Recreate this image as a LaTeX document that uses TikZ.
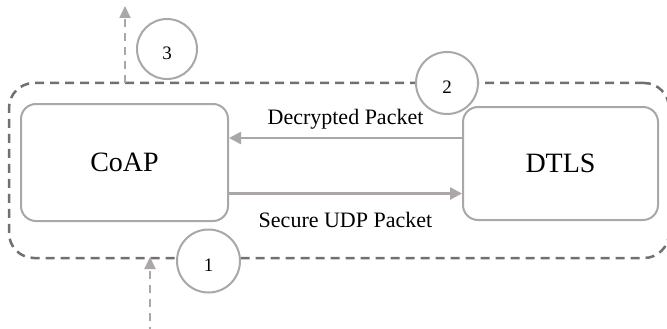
\documentclass[tikz,border=0pt]{standalone}
\usepackage{fontspec}
\setmainfont{Liberation Serif}
\usetikzlibrary{arrows.meta}
\definecolor{framegray}{HTML}{707070}
\definecolor{boxgray}{HTML}{A8A8A8}
\definecolor{arrgray}{HTML}{ABA7A7}
\tikzset{
  x=1pt, y=-1pt,
  block/.style={draw=boxgray, line width=2pt, rounded corners=15pt, fill=white, inner sep=0pt,
                font=\fontsize{28}{32}\selectfont},
  num/.style={draw=boxgray, line width=2pt, circle, fill=white, minimum size=60pt, inner sep=0pt},
  numtext/.style={font=\fontsize{19}{22}\selectfont},
  flow/.style={draw=arrgray, line width=2.5pt, -{Triangle[length=12pt,width=12pt]}},
  ioarrow/.style={draw=arrgray, line width=2pt, dash pattern=on 8pt off 6pt, -{Triangle[length=12pt,width=11pt]}},
  lbl/.style={font=\fontsize{22}{25}\selectfont},
}
\begin{document}
\begin{tikzpicture}
\useasboundingbox (0,0) rectangle (667,329);
\clip (0,0) rectangle (667,329);
\fill[white] (0,0) rectangle (667,329);
% outer dashed frame
\node[draw=framegray, line width=2.5pt, dash pattern=on 9pt off 6pt, rounded corners=25pt,
      minimum width=660pt, minimum height=175pt, inner sep=0pt] (frame) at (339,170.5) {};
% blocks
\node[block, minimum width=207pt, minimum height=117pt] (coap) at (124.5,162.5) {CoAP};
\node[block, minimum width=195pt, minimum height=113pt] (dtls) at (560.5,163.5) {DTLS};
% flows
\draw[flow] ([yshift=25.5pt]dtls.west) -- ([yshift=25.5pt]dtls.west -| coap.east)
  node[lbl, midway, above=4pt] (declbl) {Decrypted Packet};
\draw[flow] ([yshift=-31pt]coap.east) -- ([yshift=-31pt]coap.east -| dtls.west)
  node[lbl, midway, below=14pt] (seclbl) {Secure UDP Packet};
% in/out dashed arrows
\coordinate (outstart) at (125,83);
\coordinate (outend) at (125,6);
\coordinate (instart) at (150,335);
\coordinate (inend) at (150,257);
\draw[ioarrow] (outstart) -- (outend);
\draw[ioarrow] (instart) -- (inend);
% numbered circles
\node[num] (c3) at (167,49) {};
\node[numtext] (t3) at (167,53) {3};
\node[num, minimum size=62pt] (c2) at (447,83) {};
\node[numtext] (t2) at (447,87) {2};
\node[num, minimum size=63pt] (c1) at (208.5,261) {};
\node[numtext] (t1) at (208.5,265) {1};
\end{tikzpicture}
\end{document}
